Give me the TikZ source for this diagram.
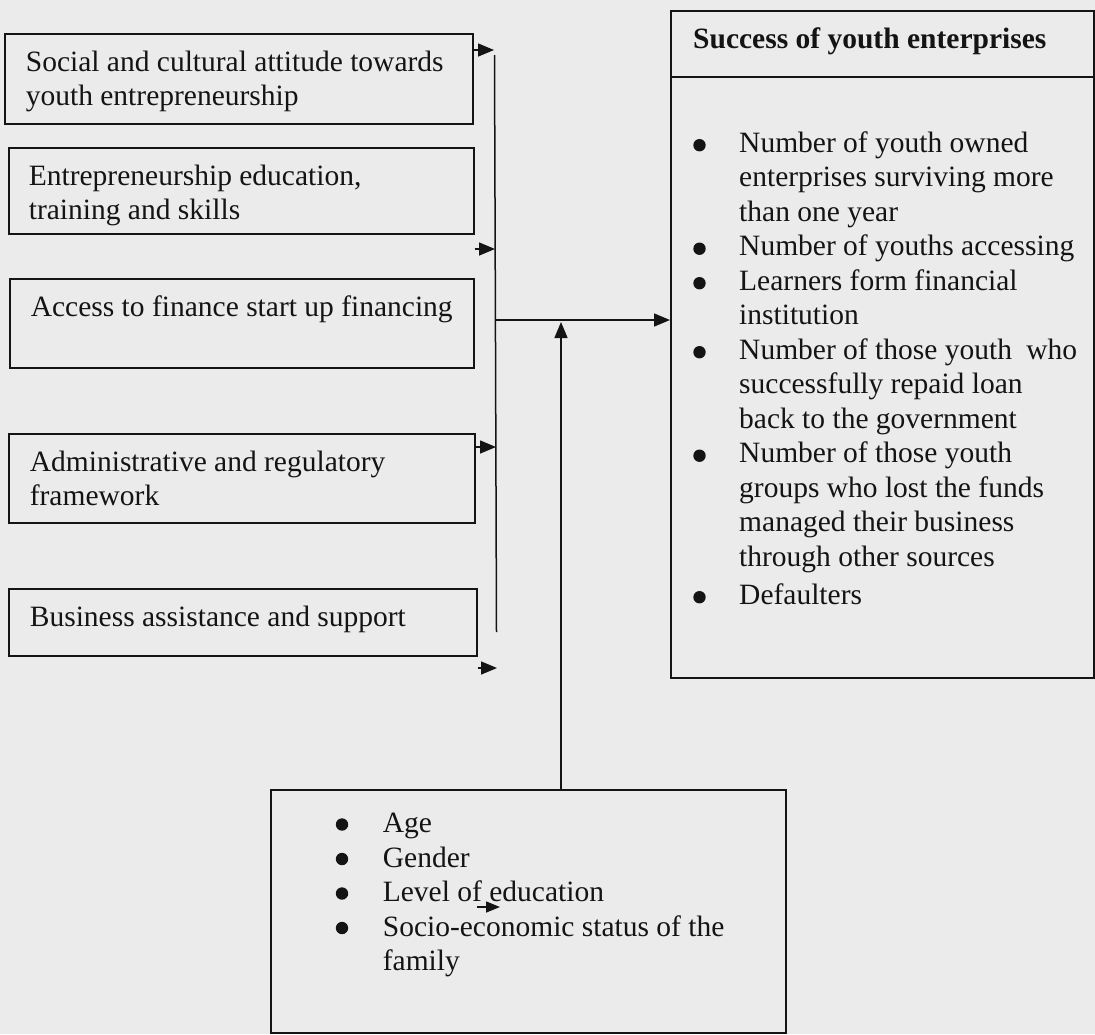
\documentclass[tikz,border=0pt]{standalone}
\usepackage{fontspec}
\setmainfont{Liberation Serif}
\usetikzlibrary{arrows.meta}
\definecolor{paper}{RGB}{235,235,235}
\definecolor{ink}{RGB}{20,20,20}
\newcommand\boxbody[4]{\parbox[c][#2][t]{#1}{\raggedright\leftskip=#3\relax\vspace*{13pt}\strut #4\par}}
\newcommand\bitem[1]{\par\hangindent=45pt\hangafter=1\noindent\hspace*{45pt}#1}
\tikzset{
  lbox/.style={draw=ink, line width=1.7pt, anchor=north west, inner sep=0pt, text=ink,
    font=\fontsize{29.5}{34.5}\selectfont},
  txt/.style={anchor=base west, inner sep=0pt, text=ink, font=\fontsize{29.5}{34.5}\selectfont},
  arr/.style={draw=ink, line width=1.5pt, -{Triangle[length=16pt,width=13pt]}},
  bus/.style={draw=ink, line width=1.5pt},
  dot/.style={fill=ink},
}
\begin{document}
\begin{tikzpicture}[x=1pt,y=-1pt]
\useasboundingbox (0,0) rectangle (1095,1034);
\fill[paper] (0,0) rectangle (1095,1034);

% left factor boxes
\node[lbox] (box1) at (4,33) {\boxbody{468pt}{90pt}{21pt}{Social and cultural attitude towards\\youth entrepreneurship}};
\node[lbox] (box2) at (8,147) {\boxbody{465pt}{86pt}{20pt}{Entrepreneurship education,\\training and skills}};
\node[lbox] (box3) at (9,278) {\boxbody{464pt}{89pt}{21pt}{Access to finance start up financing}};
\node[lbox] (box4) at (8,433) {\boxbody{466pt}{89pt}{21pt}{Administrative and regulatory\\framework}};
\node[lbox] (box5) at (8,588) {\boxbody{468pt}{67pt}{21pt}{Business assistance and support}};

% right outcome box
\node[lbox, minimum width=423pt, minimum height=667pt] (rbox) at (670,10) {};
\draw[draw=ink, line width=1.7pt] (rbox.west |- 0,77) -- (rbox.east |- 0,77);
\node[txt, font=\fontsize{29.5}{34.5}\selectfont\bfseries] (head) at (693,48) {Success of youth enterprises};
\node[txt] (rlist) at (694,152) {\parbox[t]{398pt}{\raggedright
  \bitem{Number of youth owned\newline enterprises surviving more\newline than one year}
  \bitem{Number of youths accessing}
  \bitem{Learners form financial\newline institution}
  \bitem{Number of those youth\hspace{7pt} who\newline successfully repaid loan\newline back to the government}
  \bitem{Number of those youth\newline groups who lost the funds\newline managed their business\newline through other sources}
  \par\vspace{3.5pt}
  \bitem{Defaulters}\par}};
\foreach \yy in {152,255.5,290,359,462.5,604}
  \fill[dot] (699.5,\yy-6.8) circle (6.2pt);

% bottom moderating box
\node[lbox] (bbox) at (270,789) {\parbox[c][243pt][t]{515pt}{\raggedright\leftskip=67pt\relax
  \vspace*{18.85pt}
  \bitem{\strut Age}
  \bitem{Gender}
  \bitem{Level of education}
  \bitem{Socio-economic status of the\newline family}\par}};
\foreach \yy in {832,866.5,901,935.5}
  \fill[dot] (342,\yy-7.5) circle (6.2pt);

% bus line and arrows
\coordinate (busT) at (494.5,55);
\coordinate (busB) at (496.5,632);
\draw[bus] (busT) -- (busB);
\coordinate (a1) at (494,50);
\coordinate (a2) at (495,249);
\coordinate (a3) at (496,447);
\coordinate (a4) at (497,668);
\draw[arr] (a1 -| box1.east) -- (a1);
\draw[arr] (a2 -| box2.east) -- (a2);
\draw[arr] (a3 -| box4.east) -- (a3);
\draw[arr] (a4 -| box5.east) -- (a4);
\coordinate (j) at (495.5,320);
\draw[arr] (j) -- (j -| rbox.west);
\coordinate (upt) at (561,322);
\draw[arr] (upt |- bbox.north) -- (upt);
\coordinate (s1) at (477,907);
\coordinate (s2) at (500,907);
\draw[arr, -{Triangle[length=14pt,width=11pt]}] (s1) -- (s2);
\end{tikzpicture}
\end{document}
